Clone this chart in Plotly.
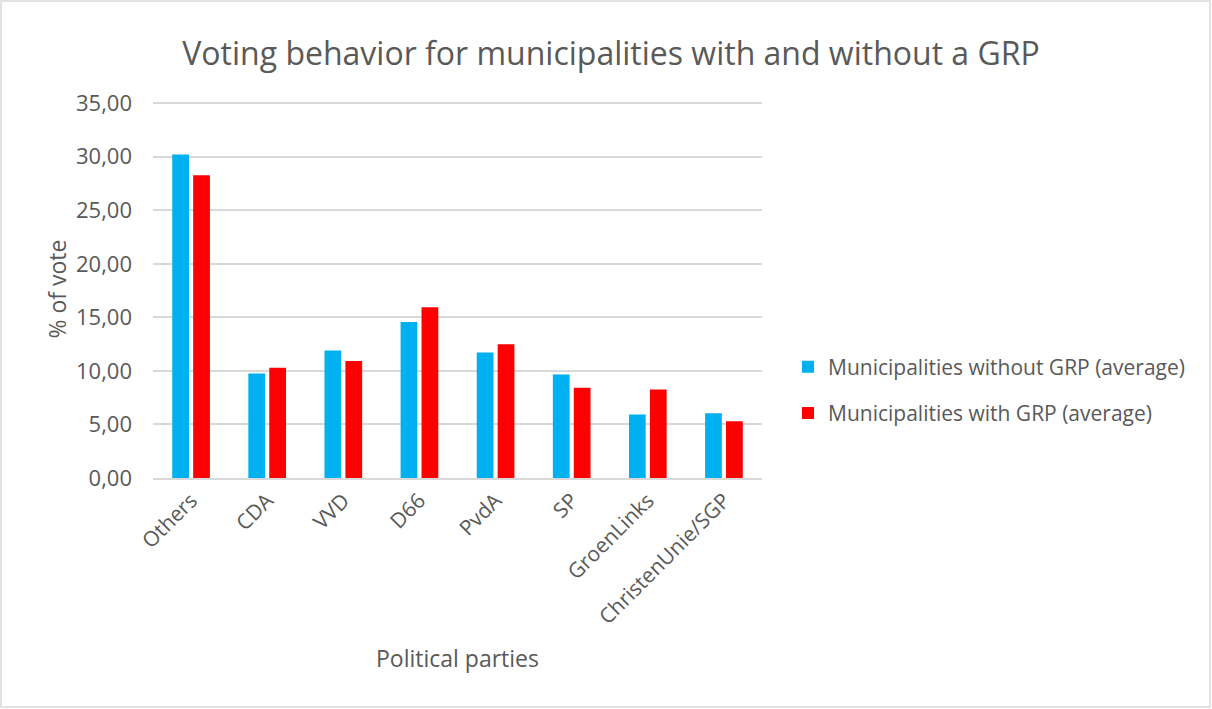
import plotly.graph_objects as go

parties = ["Others", "CDA", "VVD", "D66", "PvdA", "SP", "GroenLinks", "ChristenUnie/SGP"]
without_grp = [30.21, 9.75, 11.90, 14.56, 11.72, 9.66, 5.92, 6.05]
with_grp = [28.27, 10.30, 10.92, 15.95, 12.50, 8.42, 8.27, 5.31]
series_names = ["Municipalities without GRP (average)", "Municipalities with GRP (average)"]
y_ticks = [0, 5, 10, 15, 20, 25, 30, 35]

W, H = 1212, 709
L, R, T, B = 153, 450, 100, 231
pw, ph = W - L - R, H - T - B

fig = go.Figure()
fig.add_trace(go.Bar(x=parties, y=without_grp, name=series_names[0], legendgroup="a",
                     marker=dict(color="#00B0F0", line=dict(width=0))))
fig.add_trace(go.Bar(x=parties, y=with_grp, name=series_names[1], legendgroup="b",
                     marker=dict(color="#FF0000", line=dict(width=0))))

font_family = "Open Sans, Liberation Sans, sans-serif"
grey = "#595959"

fig.update_layout(
    width=W, height=H,
    margin=dict(l=L, r=R, t=T, b=B),
    paper_bgcolor="white", plot_bgcolor="white",
    separators=",.",
    barmode="group", bargap=0.45, bargroupgap=0.2,
    font=dict(family=font_family, color=grey, size=21),
    title=dict(text="Voting behavior for municipalities with and without a GRP",
               x=611 / W, xref="container", xanchor="center", y=1 - 54 / H, yref="container",
               yanchor="middle",
               font=dict(size=32, color=grey, family=font_family)),
    legend=dict(x=(788 - L) / pw, y=(478 - 390) / ph, xanchor="left", yanchor="middle",
                font=dict(size=21, color=grey), bgcolor="rgba(0,0,0,0)",
                traceorder="grouped", tracegroupgap=16),
    xaxis=dict(tickangle=-45, showgrid=False, showline=True, linecolor="#d9d9d9", linewidth=2,
               ticks="", tickfont=dict(size=21, color=grey),
               title=dict(text="Political parties", font=dict(size=23, color=grey), standoff=22)),
    yaxis=dict(range=[0, 35.3], tickvals=y_ticks, tickformat=".2f", showgrid=True,
               gridcolor="#d9d9d9", gridwidth=1.5, zeroline=False, showline=False,
               ticks="", ticklen=0, ticklabelstandoff=20, tickfont=dict(size=22, color=grey),
               title=dict(text="% of vote", font=dict(size=23, color=grey), standoff=2)),
    shapes=[dict(type="rect", xref="paper", yref="paper",
                 x0=-(L - 1) / pw, x1=(W - 2 - L) / pw,
                 y0=-(B - 2) / ph, y1=1 + (T - 1) / ph,
                 line=dict(color="#d9d9d9", width=1.5), fillcolor="rgba(0,0,0,0)", layer="below")],
)

fig.write_html("out.html", config={"displayModeBar": False},
               post_script="document.body.style.margin='0';document.body.style.overflow='hidden';")
